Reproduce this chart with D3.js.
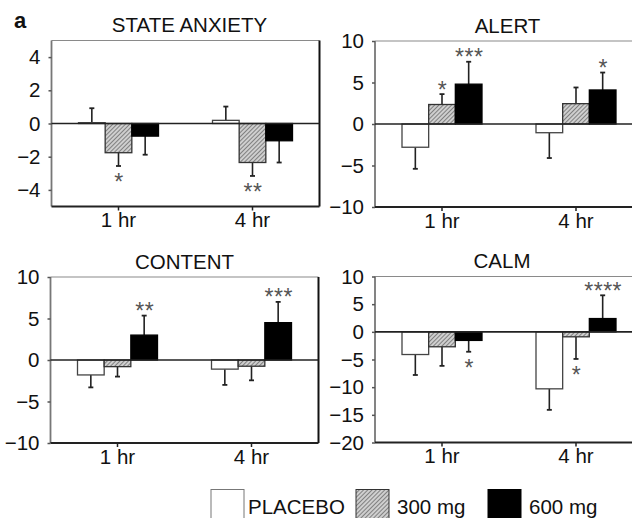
<!DOCTYPE html>
<html><head><meta charset="utf-8">
<script src="https://cdn.jsdelivr.net/npm/d3@7"></script>
<style>
html,body{margin:0;padding:0;background:#fff;}
svg{display:block;font-family:"Liberation Sans",Arial,Helvetica,sans-serif;}
</style></head>
<body>
<svg id="chart" width="632" height="518"></svg>
<script>
// ---------- data ----------
const times = ["1 hr", "4 hr"];
const groups = ["PLACEBO", "300 mg", "600 mg"];
const titles = ["STATE ANXIETY", "ALERT", "CONTENT", "CALM"];
const yDomains = [[-5, 5], [-10, 10], [-10, 10], [-20, 10]];
const yTickValues = [[-4, -2, 0, 2, 4], [-10, -5, 0, 5, 10], [-10, -5, 0, 5, 10], [-20, -15, -10, -5, 0, 5, 10]];

// means [time][group]
const stateAnxietyMean = [[0.05, -1.76, -0.76], [0.19, -2.35, -1.04]];
const stateAnxietyErr  = [[0.87, 0.80, 1.12], [0.83, 0.81, 1.31]];
const alertMean = [[-2.8, 2.35, 4.8], [-1.05, 2.45, 4.1]];
const alertErr  = [[2.6, 1.25, 2.7], [3.05, 1.95, 2.1]];
const contentMean = [[-1.8, -0.8, 3.0], [-1.1, -0.75, 4.5]];
const contentErr  = [[1.5, 1.2, 2.35], [1.9, 1.7, 2.5]];
const calmMean = [[-4.1, -2.7, -1.55], [-10.3, -0.9, 2.4]];
const calmErr  = [[3.7, 3.45, 2.05], [3.8, 4.0, 4.2]];

// significance marks: [timeIndex, groupIndex, label]
const stateAnxietySig = [[0, 1, "*"], [1, 1, "**"]];
const alertSig = [[0, 1, "*"], [0, 2, "***"], [1, 2, "*"]];
const contentSig = [[0, 2, "**"], [1, 2, "***"]];
const calmSig = [[0, 2, "*"], [1, 1, "*"], [1, 2, "****"]];

const panelMeans = [stateAnxietyMean, alertMean, contentMean, calmMean];
const panelErrs = [stateAnxietyErr, alertErr, contentErr, calmErr];
const panelSigs = [stateAnxietySig, alertSig, contentSig, calmSig];

// ---------- layout ----------
const svg = d3.select("#chart");
const PW = 268, PH = 166;
const panelPos = [[51.5, 40.5], [375, 41], [50.5, 277], [375, 276.5]];
const titleShift = [4, -1.5, 0, -7];
const FS = 20.5;

const defs = svg.append("defs");
const pat = defs.append("pattern").attr("id", "hatch")
  .attr("patternUnits", "userSpaceOnUse").attr("width", 3).attr("height", 3)
  .attr("patternTransform", "rotate(45)");
pat.append("rect").attr("width", 3).attr("height", 3).attr("fill", "#cfcfcf");
pat.append("line").attr("x1", 0).attr("y1", 0).attr("x2", 0).attr("y2", 3)
  .attr("stroke", "#5e5e5e").attr("stroke-width", 1.4);

const fills = ["#ffffff", "url(#hatch)", "#000000"];
const strokes = ["#444", "#333", "#000"];

svg.append("text").attr("x", 14).attr("y", 28).attr("font-size", 22)
  .attr("font-weight", "bold").attr("fill", "#111").text("a");

panelMeans.forEach((means, p) => {
  const [px, py] = panelPos[p];
  const g = svg.append("g").attr("transform", `translate(${px},${py})`);
  const x = d3.scaleBand().domain(times).range([0, PW]).padding(0);
  const y = d3.scaleLinear().domain(yDomains[p]).range([PH, 0]);
  const gw = 80;
  const xs = d3.scaleBand().domain(groups).range([-gw / 2, gw / 2]).padding(0);

  // frame: top (gray), right (dark)
  g.append("line").attr("x1", 0).attr("x2", PW).attr("y1", 0).attr("y2", 0)
    .attr("stroke", "#8a8a8a").attr("stroke-width", 1.2);
  g.append("line").attr("x1", PW).attr("x2", PW).attr("y1", 0).attr("y2", PH)
    .attr("stroke", "#111").attr("stroke-width", 2);

  // title
  g.append("text").attr("x", PW / 2 + titleShift[p]).attr("y", -8.5)
    .attr("text-anchor", "middle").attr("font-size", FS).attr("fill", "#111")
    .text(titles[p]);

  // y axis
  const yAxis = g.append("g").call(d3.axisLeft(y).tickValues(yTickValues[p])
    .tickSize(3).tickPadding(8).tickFormat(d3.format("d")));
  yAxis.select(".domain").attr("stroke", "#777").attr("stroke-width", 1.8)
    .attr("d", `M0,0V${PH}`);
  yAxis.selectAll(".tick line").attr("stroke", "#555").attr("stroke-width", 1.5);
  yAxis.selectAll(".tick text").attr("font-size", FS).attr("fill", "#111")
    .attr("font-family", "Liberation Sans, Arial, sans-serif");

  // x axis
  const xAxis = g.append("g").attr("transform", `translate(0,${PH})`)
    .call(d3.axisBottom(x).tickSize(4).tickPadding(2));
  xAxis.select(".domain").attr("stroke", "#222").attr("stroke-width", 2)
    .attr("d", `M0,0H${PW}`);
  xAxis.selectAll(".tick line").attr("stroke", "#222").attr("stroke-width", 1.5);
  xAxis.selectAll(".tick text").attr("font-size", FS).attr("fill", "#111")
    .attr("font-family", "Liberation Sans, Arial, sans-serif");

  const rows = [];
  times.forEach((t, ti) => groups.forEach((gr, gi) => {
    rows.push({ t, gr, ti, gi, v: means[ti][gi], e: panelErrs[p][ti][gi] });
  }));
  const cx = d => x(d.t) + x.bandwidth() / 2 + xs(d.gr);

  // error bars
  rows.forEach(d => {
    const bx = cx(d) + xs.bandwidth() / 2;
    const end = d.v >= 0 ? d.v + d.e : d.v - d.e;
    g.append("line").attr("x1", bx).attr("x2", bx).attr("y1", y(d.v)).attr("y2", y(end))
      .attr("stroke", "#222").attr("stroke-width", 1.6);
    g.append("line").attr("x1", bx - 2.5).attr("x2", bx + 2.5).attr("y1", y(end)).attr("y2", y(end))
      .attr("stroke", "#222").attr("stroke-width", 1.8);
  });

  // bars
  g.selectAll("rect.bar").data(rows).join("rect").attr("class", "bar")
    .attr("x", d => cx(d))
    .attr("width", xs.bandwidth())
    .attr("y", d => y(Math.max(0, d.v)))
    .attr("height", d => Math.abs(y(d.v) - y(0)))
    .attr("fill", d => fills[d.gi])
    .attr("stroke", d => strokes[d.gi])
    .attr("stroke-width", 1.3);

  // zero line
  g.append("line").attr("x1", 0).attr("x2", PW).attr("y1", y(0)).attr("y2", y(0))
    .attr("stroke", "#222").attr("stroke-width", 1.6);

  // significance
  panelSigs[p].forEach(([ti, gi, lab]) => {
    const v = means[ti][gi], e = panelErrs[p][ti][gi];
    const end = v >= 0 ? v + e : v - e;
    const bx = x(times[ti]) + x.bandwidth() / 2 + xs(groups[gi]) + xs.bandwidth() / 2;
    const cy = y(end) + (v >= 0 ? -9.5 : 11);
    g.append("text").attr("x", bx + 0.5).attr("y", cy + 13)
      .attr("text-anchor", "middle").attr("font-size", 23).attr("fill", "#555")
      .attr("letter-spacing", 0.5).text(lab);
  });
});

// ---------- legend ----------
const legendX = [211, 356, 488];
const legendTextX = [248, 397, 529];
const legend = svg.append("g");
groups.forEach((gr, i) => {
  legend.append("rect").attr("x", legendX[i]).attr("y", 489.5)
    .attr("width", 33).attr("height", 30)
    .attr("fill", fills[i]).attr("stroke", i === 0 ? "#777" : strokes[i]).attr("stroke-width", 1);
  legend.append("text").attr("x", legendTextX[i]).attr("y", 514)
    .attr("font-size", 20.5).attr("fill", "#111").text(gr);
});
</script>
</body></html>
